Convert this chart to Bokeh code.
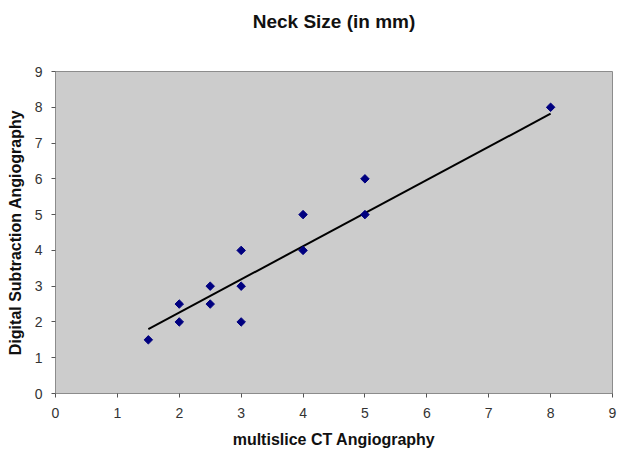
import math
from bokeh.plotting import figure
from bokeh.models import FixedTicker, Range1d, Title
from bokeh.embed import file_html
from bokeh.resources import INLINE

# data
ct_x = [1.5, 2, 2, 2.5, 2.5, 3, 3, 3, 4, 4, 5, 5, 8]
dsa_y = [1.5, 2, 2.5, 2.5, 3, 2, 3, 4, 4, 5, 5, 6, 8]
trend_x = [1.5, 8]
trend_y = [1.8, 7.82]
ticks = list(range(0, 10))

p = figure(output_backend="svg", toolbar_location=None,
           x_range=Range1d(0, 9), y_range=Range1d(0, 9),
           frame_width=557, frame_height=322,
           min_border_left=55, min_border_right=6, min_border_top=71, min_border_bottom=57,
           title="Neck Size (in mm)")

p.title.align = "center"
p.title.text_font = "Liberation Sans"
p.title.text_font_size = "19px"
p.title.text_font_style = "bold"
p.title.text_color = "#111111"
p.title.standoff = 0

# invisible spacer between the title and the plot area
spacer = Title(text=" ", text_font_size="2px", standoff=36, text_color="white")
p.add_layout(spacer, "above")

p.background_fill_color = "#cccccc"
p.border_fill_color = "white"
p.outline_line_color = "#8c8c8c"
p.outline_line_width = 1
p.grid.visible = False

for ax in (p.xaxis[0], p.yaxis[0]):
    ax.ticker = FixedTicker(ticks=ticks)
    ax.minor_tick_line_color = None
    ax.major_tick_in = 0
    ax.major_tick_out = 4
    ax.major_tick_line_color = "#555555"
    ax.axis_line_color = "#8c8c8c"
    ax.major_label_text_font = "Liberation Sans"
    ax.major_label_text_font_size = "14px"
    ax.major_label_text_color = "#333333"
    ax.axis_label_text_font = "Liberation Sans"
    ax.axis_label_text_font_size = "16px"
    ax.axis_label_text_font_style = "bold"
    ax.axis_label_text_color = "#111111"

p.xaxis.axis_label = "multislice CT Angiography"
p.yaxis.axis_label = "Digital Subtraction Angiography"
p.xaxis.major_label_standoff = 10
p.yaxis.major_label_standoff = 9
p.xaxis.axis_label_standoff = 10
p.yaxis.axis_label_standoff = 8

p.line(trend_x, trend_y, line_color="black", line_width=2)
p.scatter(ct_x, dsa_y, marker="square", size=6, angle=math.pi / 4,
          fill_color="#000080", line_color="#000080")

open("out.html", "w").write(file_html(p, INLINE))
